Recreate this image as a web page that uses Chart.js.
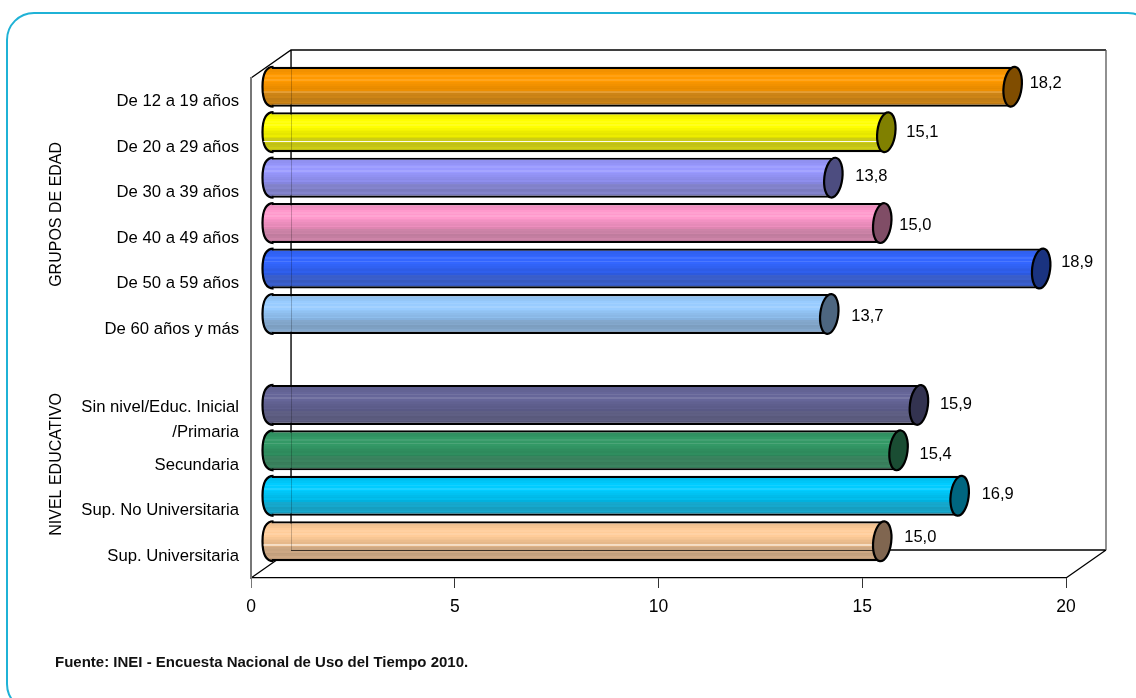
<!DOCTYPE html>
<html>
<head>
<meta charset="utf-8">
<script src="https://cdn.jsdelivr.net/npm/chart.js@4"></script>
<style>
    html, body { margin: 0; padding: 0; width: 1136px; height: 698px; overflow: hidden; background: #fff; }
    #marco { position: absolute; left: 6px; top: 12px; width: 1150px; height: 700px; box-sizing: border-box;
             border: 2px solid #1fb2d6; border-radius: 28px; }
    #grafico { position: absolute; left: 0; top: 0; }
    #fuente { position: absolute; left: 55px; top: 653px; font: bold 15px "Liberation Sans", Arial, sans-serif;
              color: #111; white-space: nowrap; }
</style>
</head>
<body>
<div id="marco"></div>
<canvas id="grafico" width="1136" height="698"></canvas>
<div id="fuente">Fuente: INEI - Encuesta Nacional de Uso del Tiempo 2010.</div>
<script>
const categorias = [
    'De 12 a 19 años', 'De 20 a 29 años', 'De 30 a 39 años', 'De 40 a 49 años', 'De 50 a 59 años', 'De 60 años y más',
    '',
    ['Sin nivel/Educ. Inicial', '/Primaria'], 'Secundaria', 'Sup. No Universitaria', 'Sup. Universitaria'
];
const valores = [18.2, 15.1, 13.8, 15.0, 18.9, 13.7, null, 15.9, 15.4, 16.9, 15.0];
const coloresBarra = ['#ff9900', '#ffff00', '#9999ff', '#ff99cc', '#3366ff', '#99ccff', null, '#666699', '#339966', '#00ccff', '#ffcc99'];
const coloresTapa = ['#804d00', '#808000', '#4d4d80', '#804d66', '#1a3380', '#4d6680', null, '#333350', '#1a4d33', '#006680', '#806650'];
const ticksX = [0, 5, 10, 15, 20];
const grupos = [
    { texto: 'GRUPOS DE EDAD', desde: 0, hasta: 5 },
    { texto: 'NIVEL EDUCATIVO', desde: 6, hasta: 10 }
];

// Las etiquetas del original están colocadas a mano: no caen todas a la misma distancia
const ajusteEtiquetaX = [37, 40, 42, 37, 40, 42, 0, 41, 41, 42, 42];
const ajusteEtiquetaY = [-3, 0, -1, 2, -6, 2, 0, 0, 4, -1, -4];

// Fondo 3D
const PROF_X = 40, PROF_Y = -28;
const RADIO_TAPA = 9;

// Franjas horizontales del cilindro, de arriba abajo
const franjas = [.92, .94, .95, .97, 1, 1.02, 1, 1.03, 1, .97, .95, .92, .9, .93, .87, .84, .82, .84, .78, .8, .84, .76, .74];
const lineaClara = [.62, .72, null, null, null, null, null, null, null, null, .58];

function sombra(hex, f) {
    const n = parseInt(hex.slice(1), 16);
    const c = [n >> 16, (n >> 8) & 255, n & 255].map(v => {
        let o = f > 1 ? v + (255 - v) * (f - 1) * 4 : v * f;
        // la parte baja del cilindro se agrisa un poco
        if (f < .86) o = o * .86 + 150 * .14;
        return Math.round(Math.min(255, o));
    });
    return `rgb(${c[0]},${c[1]},${c[2]})`;
}

function gradienteBarra(ctx, i, cy, mitad) {
    const g = ctx.createLinearGradient(0, cy - mitad, 0, cy + mitad);
    const color = coloresBarra[i];
    franjas.forEach((f, k) => {
        g.addColorStop(k / franjas.length, sombra(color, f));
        g.addColorStop((k + 1) / franjas.length, sombra(color, f));
    });
    return g;
}

function mitadBarra(chart) {
    const y = chart.scales.y;
    return (y.getPixelForTick(1) - y.getPixelForTick(0)) * 0.88 / 2;
}

const cilindro3d = {
    id: 'cilindro3d',
    beforeDraw(chart) {
        // paredes del fondo
        const { left, right, top, bottom } = chart.chartArea;
        const ctx = chart.ctx;
        ctx.save();
        ctx.strokeStyle = '#000';
        ctx.lineWidth = 1.3;
        ctx.beginPath();
        ctx.moveTo(left, top);
        ctx.lineTo(left + PROF_X, top + PROF_Y);
        ctx.lineTo(right + PROF_X, top + PROF_Y);
        ctx.moveTo(left + PROF_X, top + PROF_Y);
        ctx.lineTo(left + PROF_X, bottom + PROF_Y);
        ctx.lineTo(right + PROF_X, bottom + PROF_Y);
        ctx.moveTo(left, bottom);
        ctx.lineTo(left + PROF_X, bottom + PROF_Y);
        ctx.moveTo(right, bottom);
        ctx.lineTo(right + PROF_X, bottom + PROF_Y);
        ctx.stroke();
        ctx.strokeStyle = '#555';
        ctx.beginPath();
        ctx.moveTo(right + PROF_X, top + PROF_Y);
        ctx.lineTo(right + PROF_X, bottom + PROF_Y);
        ctx.stroke();
        ctx.restore();
    },
    beforeDatasetsDraw(chart) {
        const ctx = chart.ctx;
        ctx.save();
        ctx.translate(PROF_X / 2, PROF_Y / 2);
        const mitad = mitadBarra(chart);
        // extremo izquierdo redondeado, más cuadrado que una elipse
        chart.getDatasetMeta(0).data.forEach((barra, i) => {
            if (valores[i] === null) return;
            const arriba = barra.y - mitad, abajo = barra.y + mitad, b = barra.base;
            ctx.beginPath();
            ctx.moveTo(b + 2, arriba);
            ctx.bezierCurveTo(b - 5, arriba, b - RADIO_TAPA, arriba + mitad * .35, b - RADIO_TAPA, barra.y);
            ctx.bezierCurveTo(b - RADIO_TAPA, abajo - mitad * .35, b - 5, abajo, b + 2, abajo);
            ctx.fillStyle = gradienteBarra(ctx, i, barra.y, mitad);
            ctx.fill();
            ctx.lineWidth = 2.2;
            ctx.strokeStyle = '#000';
            ctx.stroke();
        });
    },
    afterDatasetsDraw(chart) {
        const ctx = chart.ctx;
        const mitad = mitadBarra(chart);
        const meta = chart.getDatasetMeta(0);
        meta.data.forEach((barra, i) => {
            if (valores[i] === null) return;
            // línea clara que cruza el cilindro
            if (lineaClara[i] !== null) {
                const yClara = barra.y - mitad + lineaClara[i] * mitad * 2;
                ctx.fillStyle = i === 0 ? 'rgba(255,255,255,.4)' : 'rgba(255,255,255,.95)';
                ctx.fillRect(barra.base - RADIO_TAPA + 1, yClara, barra.x - barra.base + RADIO_TAPA - 1, 1);
            }
            // tapa derecha
            ctx.beginPath();
            ctx.ellipse(barra.x, barra.y, RADIO_TAPA, mitad, 0.12, 0, Math.PI * 2);
            ctx.fillStyle = coloresTapa[i];
            ctx.fill();
            ctx.lineWidth = 2.2;
            ctx.strokeStyle = '#000';
            ctx.stroke();
        });
        ctx.restore();

        // las líneas del fondo se transparentan a través de las barras
        const { left, top, bottom } = chart.chartArea;
        ctx.save();
        ctx.strokeStyle = 'rgba(0,0,0,.22)';
        ctx.lineWidth = 1;
        ctx.beginPath();
        ctx.moveTo(left + PROF_X + .5, top + PROF_Y);
        ctx.lineTo(left + PROF_X + .5, bottom + PROF_Y);
        ctx.stroke();
        const ultima = meta.data[meta.data.length - 1];
        ctx.strokeStyle = 'rgba(0,0,0,.7)';
        ctx.beginPath();
        ctx.moveTo(left + PROF_X, bottom + PROF_Y + .5);
        ctx.lineTo(ultima.x + PROF_X / 2 - RADIO_TAPA, bottom + PROF_Y + .5);
        ctx.stroke();
        ctx.restore();

        // valores
        ctx.save();
        ctx.font = '16.5px "Liberation Sans", Arial, sans-serif';
        ctx.fillStyle = '#000';
        ctx.textBaseline = 'middle';
        meta.data.forEach((barra, i) => {
            if (valores[i] === null) return;
            const texto = valores[i].toFixed(1).replace('.', ',');
            ctx.fillText(texto, barra.x + ajusteEtiquetaX[i], barra.y + PROF_Y / 2 + ajusteEtiquetaY[i]);
        });
        ctx.restore();

        // títulos de grupo, girados
        const y = chart.scales.y;
        ctx.save();
        ctx.font = '16px "Liberation Sans", Arial, sans-serif';
        ctx.fillStyle = '#000';
        ctx.textAlign = 'center';
        ctx.textBaseline = 'middle';
        grupos.forEach(g => {
            const cy = (y.getPixelForTick(g.desde) + y.getPixelForTick(g.hasta)) / 2;
            ctx.save();
            ctx.translate(56.5, cy);
            ctx.rotate(-Math.PI / 2);
            ctx.fillText(g.texto, 0, 0);
            ctx.restore();
        });
        ctx.restore();
    }
};

new Chart(document.getElementById('grafico'), {
    type: 'bar',
    plugins: [cilindro3d],
    data: {
        labels: categorias,
        datasets: [{
            data: valores,
            barPercentage: 0.88,
            categoryPercentage: 1,
            clip: false,
            borderColor: '#000',
            borderWidth: 2.2,
            borderSkipped: 'left',
            backgroundColor(c) {
                if (c.type !== 'data' || coloresBarra[c.dataIndex] === null) return 'transparent';
                const chart = c.chart;
                if (!chart.scales.y) return coloresBarra[c.dataIndex];
                const cy = chart.scales.y.getPixelForTick(c.dataIndex);
                return gradienteBarra(chart.ctx, c.dataIndex, cy, mitadBarra(chart));
            }
        }]
    },
    options: {
        indexAxis: 'y',
        responsive: false,
        animation: false,
        layout: { padding: { top: 78, right: 70, left: 0, bottom: 0 } },
        plugins: { legend: { display: false }, tooltip: { enabled: false } },
        scales: {
            x: {
                min: 0,
                max: 20,
                afterBuildTicks(escala) { escala.ticks = ticksX.map(v => ({ value: v })); },
                afterFit(escala) { escala.height = 120; },
                grid: {
                    drawOnChartArea: false,
                    drawTicks: true,
                    tickLength: 10,
                    tickColor: c => c.tick && c.tick.value === 0 ? '#777' : '#333'
                },
                border: { color: '#000', width: 1.3 },
                ticks: {
                    color: '#000',
                    padding: 9,
                    maxRotation: 0,
                    font: { family: '"Liberation Sans", Arial, sans-serif', size: 17.5 }
                }
            },
            y: {
                afterFit(escala) { escala.width = 251; },
                grid: { display: false },
                border: { color: '#777', width: 2 },
                ticks: {
                    color: '#000',
                    padding: 4,
                    labelOffset: 1,
                    autoSkip: false,
                    font: { family: '"Liberation Sans", Arial, sans-serif', size: 16.7, lineHeight: 1.55 }
                }
            }
        }
    }
});
</script>
</body>
</html>
